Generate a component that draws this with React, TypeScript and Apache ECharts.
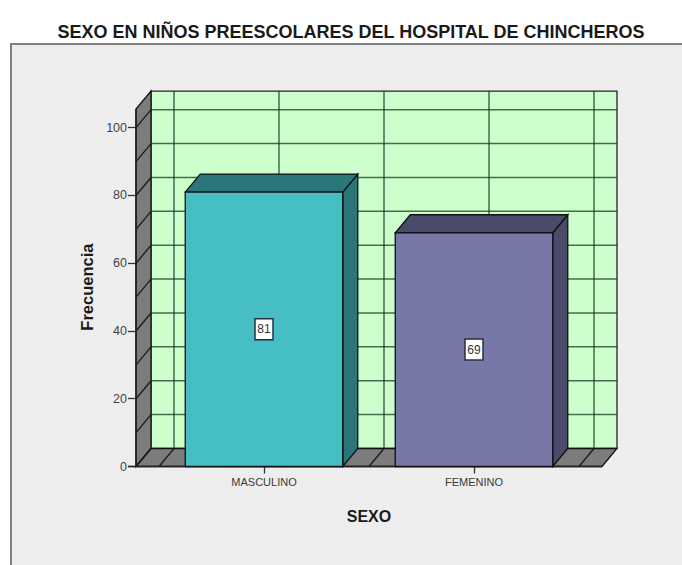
import React, { useEffect, useRef } from "react";
import * as echarts from "echarts";

const titleText = "SEXO EN NIÑOS PREESCOLARES DEL HOSPITAL DE CHINCHEROS";
const categories = ["MASCULINO", "FEMENINO"];
const frequencies = [81, 69];
const barColors = ["#46bfc4", "#7878a8"];
const barSideColors = ["#2b7678", "#4a4a6a"];
const wallValues = [0, 10, 20, 30, 40, 50, 60, 70, 80, 90, 100];
const wallTop = 105.5;

const DX = 15;
const DY = -18;
const PAD = 23;
const LINE = "#1a1a1a";
const WALL_LINE = "rgba(20,50,30,0.72)";

function poly(points: number[][], fill: string, stroke = "#111", lineWidth = 1.3) {
  return {
    type: "polygon",
    shape: { points },
    style: { fill, stroke, lineWidth },
    silent: true,
  };
}
function seg(a: number[], b: number[], stroke = LINE, lineWidth = 1.3) {
  return {
    type: "line",
    shape: { x1: a[0], y1: a[1], x2: b[0], y2: b[1] },
    style: { stroke, lineWidth, fill: "none" },
    silent: true,
  };
}

function renderWalls(_p: any, api: any) {
  const band = api.size([1, 0])[0];
  const y0 = api.coord([0, 0])[1];
  const yT = api.coord([0, wallTop])[1];
  const c0 = api.coord([0, 0])[0];
  const c1 = api.coord([1, 0])[0];
  const L = c0 - band / 2 - PAD;
  const R = c1 + band / 2 + PAD;
  const children: any[] = [];
  children.push(poly([[L + DX, y0 + DY], [R + DX, y0 + DY], [R + DX, yT + DY], [L + DX, yT + DY]], "#ccffcc", "#222"));
  children.push(poly([[L, y0], [L + DX, y0 + DY], [L + DX, yT + DY], [L, yT]], "#7c7c7c"));
  children.push(poly([[L, y0], [R, y0], [R + DX, y0 + DY], [L + DX, y0 + DY]], "#7c7c7c"));
  wallValues.forEach((v) => {
    const y = api.coord([0, v])[1];
    if (v > 0) children.push(seg([L + DX, y + DY], [R + DX, y + DY], WALL_LINE, 1.5));
    children.push(seg([L, y], [L + DX, y + DY]));
  });
  [c0 - band / 2, c0, c0 + band / 2, c1, c1 + band / 2].forEach((x) => {
    children.push(seg([x + DX, y0 + DY], [x + DX, yT + DY], WALL_LINE, 1.5));
    children.push(seg([x, y0], [x + DX, y0 + DY]));
  });
  children.push(seg([L - 8, y0], [R, y0], "#222", 1.5));
  children.push(seg([L, y0], [L, yT], "#222", 1.5));
  return { type: "group", children };
}

function renderBar(_p: any, api: any) {
  const i = api.value(0);
  const v = api.value(1);
  const [cx, y0] = api.coord([i, 0]);
  const yV = api.coord([i, v])[1];
  const w = api.size([1, 0])[0] * 0.75;
  const l = cx - w / 2;
  const r = cx + w / 2;
  const side = barSideColors[i];
  return {
    type: "group",
    children: [
      poly([[r, y0], [r + DX, y0 + DY], [r + DX, yV + DY], [r, yV]], side),
      poly([[l, yV], [r, yV], [r + DX, yV + DY], [l + DX, yV + DY]], side),
      poly([[l, y0], [r, y0], [r, yV], [l, yV]], barColors[i]),
      {
        type: "rect",
        shape: { x: cx - 9, y: (y0 + yV) / 2 - 10.5, width: 18, height: 21 },
        style: { fill: "#ffffff", stroke: "#2a2f3a", lineWidth: 1.5 },
        silent: true,
      },
      {
        type: "text",
        x: cx,
        y: (y0 + yV) / 2,
        style: {
          text: String(v),
          fill: "#333",
          font: "12px 'Liberation Sans'",
          align: "center",
          verticalAlign: "middle",
        },
        silent: true,
      },
    ],
  };
}

export default function App() {
  const ref = useRef<HTMLDivElement>(null);
  useEffect(() => {
    const chart = echarts.init(ref.current!, null, { renderer: "svg" });
    chart.setOption({
      animation: false,
      backgroundColor: "#ffffff",
      textStyle: { fontFamily: "'Liberation Sans'" },
      title: {
        text: titleText,
        left: 346,
        top: 18,
        textAlign: "center",
        textStyle: { fontSize: 18, fontWeight: "bold", color: "#1a1a1a", fontFamily: "'Liberation Sans'" },
      },
      graphic: [
        {
          type: "rect",
          z: -10,
          silent: true,
          shape: { x: 11, y: 44, width: 680, height: 540 },
          style: { fill: "#eeeeee", stroke: "#808080", lineWidth: 2 },
        },
      ],
      grid: { left: 159, right: 103, top: 127.7, bottom: 98.5, containLabel: false },
      xAxis: {
        type: "category",
        data: categories,
        boundaryGap: true,
        axisLine: { show: false },
        axisTick: { show: true, alignWithLabel: true, length: 7, lineStyle: { color: "#333", width: 1.3 } },
        axisLabel: { fontSize: 11, color: "#3a3a3a", margin: 10, fontFamily: "'Liberation Sans'" },
        splitLine: { show: false },
        name: "SEXO",
        nameLocation: "middle",
        nameGap: 42,
        nameTextStyle: { fontSize: 16, fontWeight: "bold", color: "#1a1a1a", fontFamily: "'Liberation Sans'" },
      },
      yAxis: {
        type: "value",
        min: 0,
        max: 100,
        interval: 20,
        offset: PAD,
        axisLine: { show: false },
        axisTick: { show: true, length: 8, lineStyle: { color: "#333", width: 1.3 } },
        axisLabel: { fontSize: 12.5, color: "#444", margin: 9, fontFamily: "'Liberation Sans'" },
        splitLine: { show: false },
        name: "Frecuencia",
        nameLocation: "middle",
        nameGap: 40,
        nameRotate: 90,
        nameTextStyle: { fontSize: 16.5, fontWeight: "bold", color: "#1a1a1a", padding: [0, 0, 0, 20], fontFamily: "'Liberation Sans'" },
      },
      series: [
        {
          type: "custom",
          z: 2,
          clip: false,
          silent: true,
          renderItem: renderWalls,
          data: [[0, 0]],
          encode: { x: 0, y: 1 },
        },
        {
          type: "custom",
          z: 3,
          clip: false,
          silent: true,
          renderItem: renderBar,
          data: frequencies.map((v, i) => [i, v]),
          encode: { x: 0, y: 1 },
        },
      ],
    });
    return () => chart.dispose();
  }, []);
  return <div ref={ref} style={{ position: "fixed", left: 0, top: 0, width: 682, height: 565 }} />;
}
